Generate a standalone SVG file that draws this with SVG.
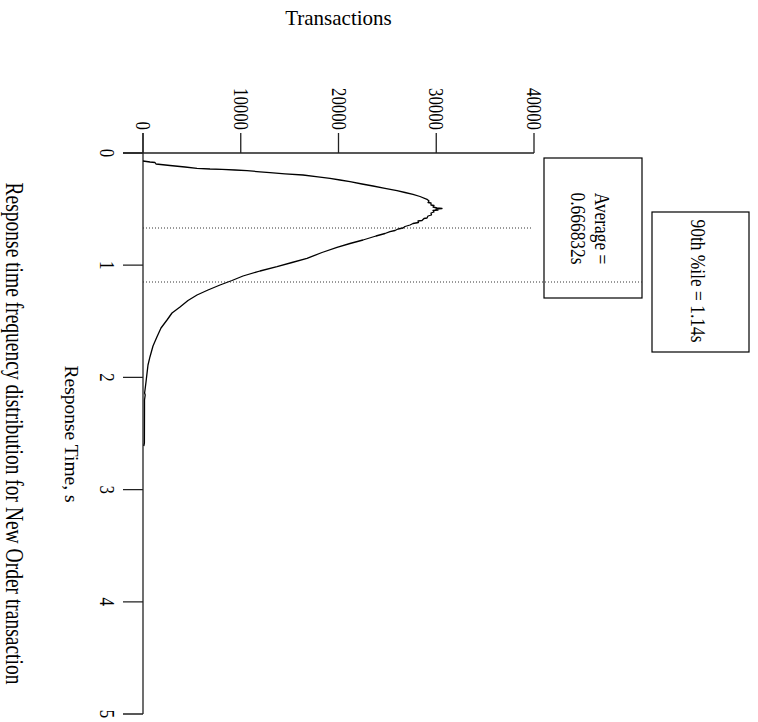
<svg xmlns="http://www.w3.org/2000/svg" width="758" height="722" viewBox="0 0 758 722">
<style>
text{font-family:"Liberation Serif","Times New Roman",serif;fill:#000}
.tick{font-size:16.8px}
.axis{stroke:#222;stroke-width:1.3;fill:none}
.dot{stroke:#333;stroke-width:1;stroke-dasharray:1 2;fill:none}
.box{fill:none;stroke:#000;stroke-width:1.2}
.curve{fill:none;stroke:#000;stroke-width:1.3;stroke-linejoin:round}
</style>
<rect width="758" height="722" fill="#fff"/>
<text x="338.5" y="25" font-size="21" text-anchor="middle">Transactions</text>
<g id="axes">
<path class="axis" d="M123,153H534M143,133V714"/>
<path class="axis" d="M143,133V153M240.75,133V153M338.5,133V153M436.25,133V153M534,133V153"/>
<path class="axis" d="M123,153H143M123,265.2H143M123,377.4H143M123,489.6H143M123,601.8H143M123,714H143"/>
<g class="tick" text-anchor="end">
<text transform="translate(136,130) rotate(90) scale(1,1.3)">0</text>
<text transform="translate(233.75,130) rotate(90) scale(1,1.3)">10000</text>
<text transform="translate(331.5,130) rotate(90) scale(1,1.3)">20000</text>
<text transform="translate(429.25,130) rotate(90) scale(1,1.3)">30000</text>
<text transform="translate(527,130) rotate(90) scale(1,1.3)">40000</text>
</g>
<g class="tick" text-anchor="middle">
<text transform="translate(100,153) rotate(90) scale(1,1.3)">0</text>
<text transform="translate(100,265.2) rotate(90) scale(1,1.3)">1</text>
<text transform="translate(100,377.4) rotate(90) scale(1,1.3)">2</text>
<text transform="translate(100,489.6) rotate(90) scale(1,1.3)">3</text>
<text transform="translate(100,601.8) rotate(90) scale(1,1.3)">4</text>
<text transform="translate(100,714) rotate(90) scale(1,1.3)">5</text>
</g>
<text transform="translate(65,434) rotate(90)" font-size="19.5" text-anchor="middle">Response Time, s</text>
</g>
<g id="distribution">
<path class="curve" d="M143,161L150,162L155,162.5L156,164L170,165.5L185,167L197,168.3L210,169L222,169.3L235,170L247,170.7L260,171.8L270,172.7L285,173.8L303,175L318,176.8L330,178.3L340,180L350,181.7L362,184L373,186L385,188.3L397,190.7L405,192.5L413,194.3L420,196.5L427,199.3L429,201L428,202.5L431,203L431,205L434,205.5L433,207L437,208L442,208.5L436,209.2L438,210L433,210.5L434,212L431,213L431.5,215L428,216L427,218L424,218.5L422,220.5L418,221L418.5,222.5L413,223.5L410,225L405,226.5L403,228L398,229L395,230.5L390,231.7L385,233.5L376,236L363,240L350,243.5L337,247.3L322,252.5L307,258.3L292,262.5L277,266.7L260,271L243,276L232,280.5L220,285L208,290L197,295L188,300.5L180,307L172,313L167,320L161,328L157,336.7L153,346L150,356.7L148,365L147,373.3L146,382L145,390L144.6,393L145.2,395L144.5,400L144.5,410L144.4,443L143.8,446"/>
</g>
<g id="average-box">
<rect class="box" x="544" y="158" width="98" height="140"/>
<text transform="translate(595,228.5) rotate(90) scale(1,1.2)" font-size="17.4" text-anchor="middle">Average =</text>
<text transform="translate(571,228.5) rotate(90) scale(1,1.2)" font-size="17.4" text-anchor="middle">0.666832s</text>
</g>
<g id="percentile-box">
<rect class="box" x="652" y="212" width="97" height="140"/>
<text transform="translate(691,281) rotate(90) scale(1,1.2)" font-size="17.4" text-anchor="middle">90th %ile = 1.14s</text>
</g>
<g id="markers">
<path class="dot" d="M143,228H533"/>
<path class="dot" d="M143,282H642"/>
</g>
<text id="caption" transform="translate(6,433.5) rotate(90) scale(1,1.3)" font-size="19.5" text-anchor="middle">Response time frequency distribution for New Order transaction</text>
</svg>
